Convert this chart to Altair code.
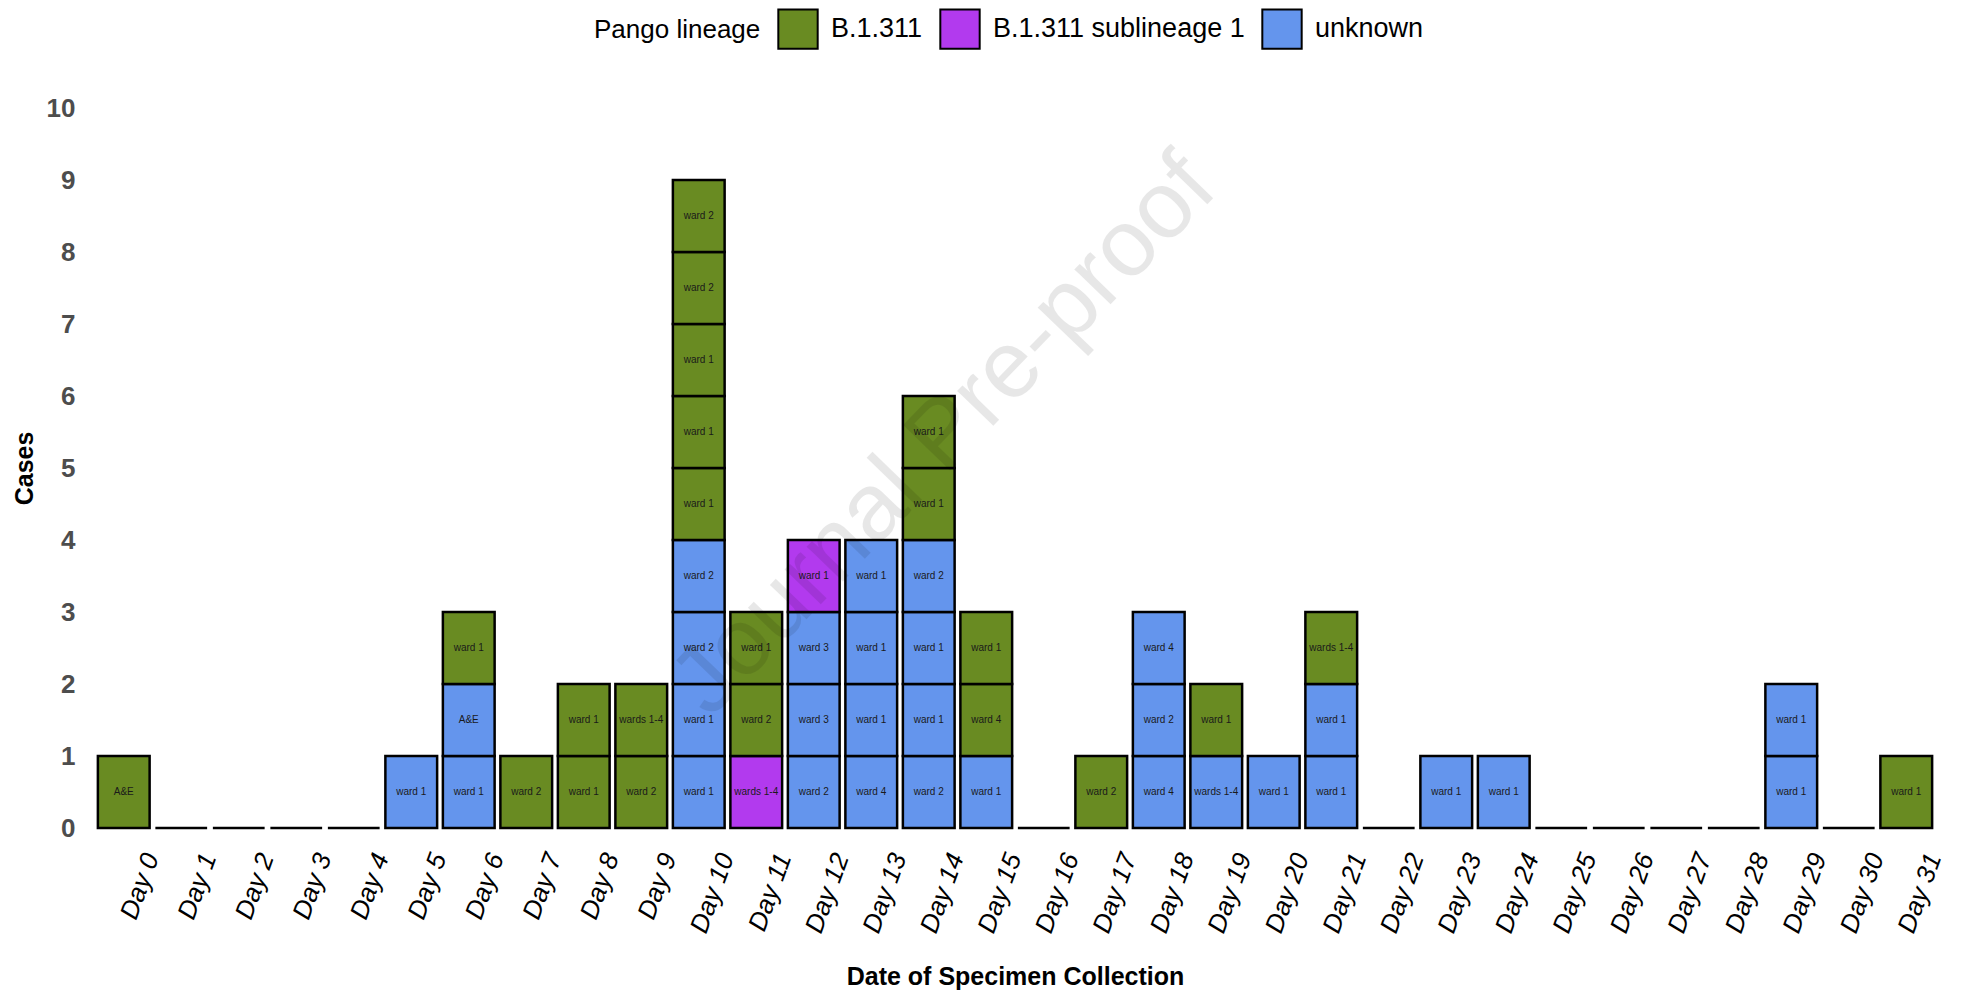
import altair as alt
import pandas as pd

days = ["Day 0", "Day 1", "Day 2", "Day 3", "Day 4", "Day 5", "Day 6", "Day 7",
        "Day 8", "Day 9", "Day 10", "Day 11", "Day 12", "Day 13", "Day 14", "Day 15",
        "Day 16", "Day 17", "Day 18", "Day 19", "Day 20", "Day 21", "Day 22", "Day 23",
        "Day 24", "Day 25", "Day 26", "Day 27", "Day 28", "Day 29", "Day 30", "Day 31"]

B = "B.1.311"
S = "B.1.311 sublineage 1"
U = "unknown"

# one entry per case, listed bottom-to-top within each day
case_day = ["Day 0",
            "Day 5",
            "Day 6", "Day 6", "Day 6",
            "Day 7",
            "Day 8", "Day 8",
            "Day 9", "Day 9",
            "Day 10", "Day 10", "Day 10", "Day 10", "Day 10", "Day 10", "Day 10", "Day 10", "Day 10",
            "Day 11", "Day 11", "Day 11",
            "Day 12", "Day 12", "Day 12", "Day 12",
            "Day 13", "Day 13", "Day 13", "Day 13",
            "Day 14", "Day 14", "Day 14", "Day 14", "Day 14", "Day 14",
            "Day 15", "Day 15", "Day 15",
            "Day 17",
            "Day 18", "Day 18", "Day 18",
            "Day 19", "Day 19",
            "Day 20",
            "Day 21", "Day 21", "Day 21",
            "Day 23",
            "Day 24",
            "Day 29", "Day 29",
            "Day 31"]
case_lineage = [B,
                U,
                U, U, B,
                B,
                B, B,
                B, B,
                U, U, U, U, B, B, B, B, B,
                S, B, B,
                U, U, U, S,
                U, U, U, U,
                U, U, U, U, B, B,
                U, B, B,
                B,
                U, U, U,
                U, B,
                U,
                U, U, B,
                U,
                U,
                U, U,
                B]
case_ward = ["A&E",
             "ward 1",
             "ward 1", "A&E", "ward 1",
             "ward 2",
             "ward 1", "ward 1",
             "ward 2", "wards 1-4",
             "ward 1", "ward 1", "ward 2", "ward 2", "ward 1", "ward 1", "ward 1", "ward 2", "ward 2",
             "wards 1-4", "ward 2", "ward 1",
             "ward 2", "ward 3", "ward 3", "ward 1",
             "ward 4", "ward 1", "ward 1", "ward 1",
             "ward 2", "ward 1", "ward 1", "ward 2", "ward 1", "ward 1",
             "ward 1", "ward 4", "ward 1",
             "ward 2",
             "ward 4", "ward 2", "ward 4",
             "wards 1-4", "ward 1",
             "ward 1",
             "ward 1", "ward 1", "wards 1-4",
             "ward 1",
             "ward 1",
             "ward 1", "ward 1",
             "ward 1"]

lineages = [B, S, U]
lineage_colors = ["#698B22", "#B23AEE", "#6495ED"]
y_ticks = [0, 1, 2, 3, 4, 5, 6, 7, 8, 9, 10]

df = pd.DataFrame({"day": case_day, "lineage": case_lineage, "ward": case_ward})
df["y0"] = df.groupby("day").cumcount()
df["y1"] = df["y0"] + 1
df["ym"] = df["y0"] + 0.5

empty_days = [d for d in days if d not in set(case_day)]
empty = pd.DataFrame({"day": empty_days, "y0": 0, "y1": 0})

FONT = "Liberation Sans"
W, H = 1840, 720

xscale = alt.Scale(domain=days, paddingInner=0.1, paddingOuter=0.05)
yscale = alt.Scale(domain=[0, 10], nice=False)

xaxis = alt.Axis(title="Date of Specimen Collection", labelAngle=-70, labelAlign="right",
                 labelBaseline="middle", labelFontStyle="italic", labelFontSize=26,
                 labelColor="black", labelOffset=28, labelPadding=26, domain=False,
                 ticks=False, grid=False, titleFontSize=25, titleFontWeight="bold",
                 titleColor="black", titleY=136, labelFont=FONT, titleFont=FONT)
yaxis = alt.Axis(title="Cases", values=y_ticks, format="d", labelFontSize=26, labelFontWeight="bold",
                 labelColor="#4D4D4D", labelPadding=20, domain=False, ticks=False,
                 grid=False, titleFontSize=25, titleFontWeight="bold", titleColor="black",
                 titleX=-58, titleY=H / 2, labelFont=FONT, titleFont=FONT)

bars = alt.Chart(df).mark_rect(stroke="black", strokeWidth=2.5).encode(
    x=alt.X("day:N", scale=xscale, axis=xaxis, sort=days),
    y=alt.Y("y0:Q", scale=yscale, axis=yaxis),
    y2="y1:Q",
    fill=alt.Fill("lineage:N", scale=alt.Scale(domain=lineages, range=lineage_colors),
                  legend=alt.Legend(title="Pango lineage", orient="none", direction="horizontal",
                                    legendX=499, legendY=-100, titleOrient="left",
                                    titleFontSize=26, titleFontWeight="normal", titleColor="black",
                                    labelFontSize=27, labelColor="black", labelLimit=0,
                                    symbolType="square",
                                    symbolSize=1550, symbolStrokeColor="black",
                                    symbolStrokeWidth=2, symbolOpacity=1, columnPadding=13,
                                    labelOffset=12, titlePadding=16, titleBaseline="middle",
                                    titleFont=FONT, labelFont=FONT)),
)

labels = alt.Chart(df).mark_text(fontSize=10, color="#1a1a1a", font=FONT).encode(
    x=alt.X("day:N", scale=xscale, sort=days),
    y=alt.Y("ym:Q", scale=yscale),
    text="ward:N",
)

zero = alt.Chart(empty).mark_rect(stroke="black", strokeWidth=2.5, fill="white").encode(
    x=alt.X("day:N", scale=xscale, sort=days),
    y=alt.Y("y0:Q", scale=yscale),
    y2="y1:Q",
)

watermark = alt.Chart(pd.DataFrame({"t": ["Journal Pre-proof"]})).mark_text(
    fontSize=95, angle=314, color="black", opacity=0.09, font=FONT
).encode(x=alt.value(849), y=alt.value(327), text="t:N")

chart = alt.layer(bars, zero, labels, watermark).properties(
    width=W, height=H,
    autosize=alt.AutoSizeParams(type="none"),
    padding={"left": 87, "top": 100, "right": 15, "bottom": 166},
).configure(font=FONT).configure_view(strokeWidth=0, stroke="transparent")

chart.save("out.html", embed_options={"renderer": "svg", "actions": False})
